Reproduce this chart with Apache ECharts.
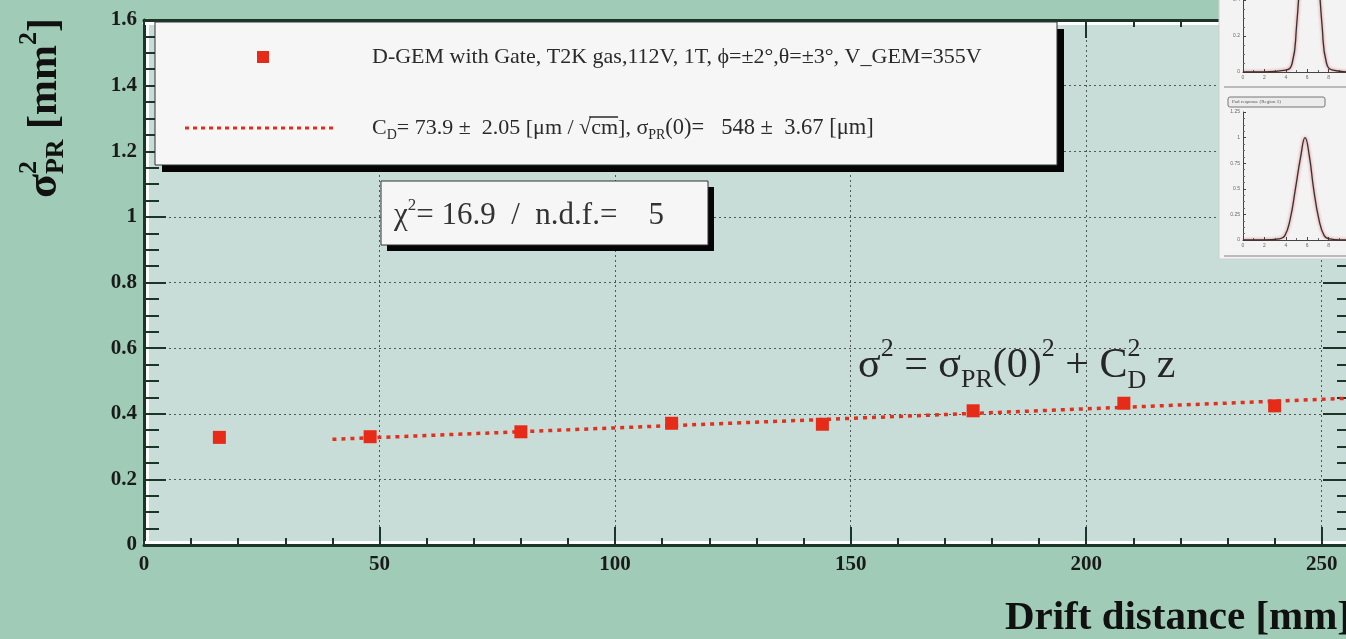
<!DOCTYPE html>
<html>
<head>
<meta charset="utf-8">
<script src="https://cdn.jsdelivr.net/npm/echarts@6/dist/echarts.min.js"></script>
<style>html,body{margin:0;padding:0;background:#a0cbb6;}#chart{width:1346px;height:639px;}</style>
</head>
<body>
<div id="chart"></div>
<script>
// ---- data ----
const driftDistance = [16, 48, 80, 112, 144, 176, 208, 240];          // mm
const sigmaPRsq     = [0.328, 0.330, 0.345, 0.371, 0.368, 0.409, 0.432, 0.424]; // mm^2
const fitX = [40, 255];
const fitY = [0.322, 0.447];
const xRange = { min: 0, max: 256, interval: 50 };
const yRange = { min: 0, max: 1.6, interval: 0.2 };
const legendText1 = 'D-GEM with Gate, T2K gas,112V, 1T, ϕ=±2°,θ=±3°, V_GEM=355V';
const xAxisTitle = 'Drift distance [mm]';
// inset pad-response thumbnails (approximate shapes)
const insetTopX = [0, 2, 4, 4.6, 5.0, 5.4, 5.8, 6.2, 6.6, 7.0, 7.4, 7.8, 8.4, 10];
const insetTopY = [0, 0, 0.01, 0.05, 0.25, 0.6, 0.92, 1, 0.92, 0.6, 0.25, 0.05, 0.01, 0];
const insetBotX = [0, 2, 3.4, 3.9, 4.4, 4.9, 5.4, 5.8, 6.2, 6.6, 7.1, 7.6, 8.1, 9, 10];
const insetBotY = [0, 0, 0.01, 0.04, 0.2, 0.5, 0.82, 1, 0.82, 0.5, 0.2, 0.04, 0.01, 0, 0];
const insetLabel = 'Pad response (Region 5)';

const SERIF = '"Liberation Serif", "DejaVu Serif", serif';
const DARK = '#1d3528';

const ctx2d = document.createElement('canvas').getContext('2d');
function tw(t, font) { ctx2d.font = font; return ctx2d.measureText(t).width; }
// lay out a sequence of text pieces (super/subscripts) using measured widths
function richLine(x0, y0, pieces, o) {
  const els = [];
  let x = x0, prevX = x0;
  pieces.forEach(p => {
    const [t, s, dy = 0, flag = ''] = p;
    const font = `${o.weight || 'normal'} ${s}px ${SERIF}`;
    const w = tw(t, font);
    let px;
    if (flag === 'stack') { px = prevX; x = Math.max(x, prevX + w); }
    else { px = x; prevX = x; x += w; }
    els.push({ type: 'text', x: px, y: y0 + dy, z: o.z || 10,
      style: { text: t, font: font, fill: o.fill || '#222', align: 'left', verticalAlign: 'middle' } });
    if (flag === 'over') {
      els.push({ type: 'line', z: o.z || 10, shape: { x1: px - 2, y1: y0 + dy - s * 0.5, x2: px + w, y2: y0 + dy - s * 0.5 },
        style: { stroke: o.fill || '#222', lineWidth: 1.5 } });
    }
  });
  return els;
}

const chart = echarts.init(document.getElementById('chart'), null, { renderer: 'canvas' });

const axisLbl = { color: '#1a1a1a', fontFamily: SERIF, fontWeight: 'bold', fontSize: 21 };
const dotted = { color: '#4d5a57', type: [2, 3], width: 1 };

const insetAxisX = (gi) => ({
  type: 'value', gridIndex: gi, min: 0, max: 10, interval: 2, z: 20,
  axisLine: { show: true, lineStyle: { color: '#444', width: 1 } },
  axisTick: { inside: true, length: 3, lineStyle: { color: '#444' } },
  minorTick: { show: true, splitNumber: 2, length: 2, lineStyle: { color: '#666' } },
  axisLabel: { fontSize: 5, color: '#666', margin: 3 }, splitLine: { show: false }
});
const insetAxisY = (gi, max, iv) => ({
  type: 'value', gridIndex: gi, min: 0, max: max, interval: iv, z: 20,
  axisLine: { show: true, lineStyle: { color: '#444', width: 1 } },
  axisTick: { inside: true, length: 3, lineStyle: { color: '#444' } },
  minorTick: { show: true, splitNumber: 4, length: 2, lineStyle: { color: '#666' } },
  axisLabel: { fontSize: 5, color: '#666', margin: 3 }, splitLine: { show: false }
});

const graphics = [];
// legend box with shadow
graphics.push({ type: 'rect', z: 9, shape: { x: 162, y: 29, width: 902, height: 143 }, style: { fill: '#050505' } });
graphics.push({ type: 'rect', z: 10, shape: { x: 155, y: 22, width: 902, height: 143 }, style: { fill: '#f6f6f6', stroke: '#333', lineWidth: 1 } });
graphics.push({ type: 'rect', z: 11, shape: { x: 257, y: 51, width: 12, height: 12 }, style: { fill: '#e62b18' } });
graphics.push({ type: 'line', z: 11, shape: { x1: 185, y1: 128, x2: 334, y2: 128 }, style: { stroke: '#e0301e', lineWidth: 3, lineDash: [4, 4] } });
graphics.push(...richLine(372, 57, [[legendText1, 22]], { z: 11, fill: '#2a2a2a' }));
graphics.push(...richLine(372, 128, [['C', 22], ['D', 14, 7], ['= 73.9 ±  2.05 [μm / ', 22], ['√', 22], ['cm', 22, 0, 'over'], ['], σ', 22], ['PR', 14, 7], ['(0)=   548 ±  3.67 [μm]', 22.5]], { z: 11, fill: '#2a2a2a' }));
// chi2 box
graphics.push({ type: 'rect', z: 9, shape: { x: 387, y: 187, width: 327, height: 64 }, style: { fill: '#050505' } });
graphics.push({ type: 'rect', z: 10, shape: { x: 381, y: 181, width: 327, height: 64 }, style: { fill: '#f6f6f6', stroke: '#333', lineWidth: 1 } });
graphics.push(...richLine(394, 216, [['χ', 31], ['2', 17, -10], ['= 16.9  /  n.d.f.=    5', 31]], { z: 11, fill: '#333' }));
// formula
graphics.push(...richLine(858, 366, [['σ', 42], ['2', 26, -17], [' = σ', 42], ['PR', 26, 14], ['(0)', 42], ['2', 26, -17], [' + C', 42], ['2', 26, -17], ['D', 26, 15, 'stack'], [' z', 42]], { z: 11, fill: '#262626' }));
// y axis title (rotated)
graphics.push({ type: 'group', x: 45, y: 198, rotation: Math.PI / 2, z: 11,
  children: richLine(0, 0, [['σ', 44], ['2', 26, -16], ['PR', 26, 11, 'stack'], [' [mm', 42], ['2', 26, -16], [']', 42]], { weight: 'bold', z: 11, fill: '#111' }) });
// x axis title
graphics.push({ type: 'text', z: 11, x: 1351, y: 618, style: { text: xAxisTitle, font: `bold 41px ${SERIF}`, fill: '#111', align: 'right', verticalAlign: 'middle' } });
// inset panel
graphics.push({ type: 'rect', z: 15, shape: { x: 1219, y: -5, width: 135, height: 264 }, style: { fill: '#f3f3f3', stroke: '#cfcfcf', lineWidth: 1 } });
graphics.push({ type: 'line', z: 16, shape: { x1: 1224, y1: 87, x2: 1346, y2: 87 }, style: { stroke: '#bbb', lineWidth: 2 } });
graphics.push({ type: 'line', z: 16, shape: { x1: 1224, y1: 256, x2: 1346, y2: 256 }, style: { stroke: '#bbb', lineWidth: 2 } });
graphics.push({ type: 'rect', z: 16, shape: { x: 1228, y: 97, width: 97, height: 10, r: 2 }, style: { fill: '#ececec', stroke: '#777', lineWidth: 1 } });
graphics.push({ type: 'text', z: 17, x: 1232, y: 102, style: { text: insetLabel, font: `5px ${SERIF}`, fill: '#555', verticalAlign: 'middle' } });

const tickCommon = { lineStyle: { color: DARK, width: 2 } };

const option = {
  backgroundColor: '#a0cbb6',
  animation: false,
  grid: [
    { left: 144, top: 20, width: 1206, height: 525, show: true, backgroundColor: '#c8ddd8', borderWidth: 0, outerBoundsMode: 'none', containLabel: false },
    { left: 1243, top: -108, width: 107, height: 180, outerBoundsMode: 'none', containLabel: false },
    { left: 1243, top: 112, width: 107, height: 128, outerBoundsMode: 'none', containLabel: false }
  ],
  xAxis: [
    { type: 'value', gridIndex: 0, position: 'bottom', min: xRange.min, max: xRange.max, interval: xRange.interval,
      axisLine: { show: true, onZero: false, lineStyle: { color: DARK, width: 3, shadowColor: '#ffffff', shadowOffsetY: -3, shadowBlur: 0 } },
      axisTick: Object.assign({ show: true, inside: true, length: 18 }, tickCommon),
      minorTick: Object.assign({ show: true, splitNumber: 5, length: 7 }, tickCommon),
      axisLabel: Object.assign({ showMaxLabel: false, margin: 9 }, axisLbl),
      splitLine: { show: true, lineStyle: dotted } },
    { type: 'value', gridIndex: 0, position: 'top', min: xRange.min, max: xRange.max, interval: xRange.interval,
      axisLine: { show: true, onZero: false, lineStyle: { color: DARK, width: 3, shadowColor: '#ffffff', shadowOffsetY: 3, shadowBlur: 0 } },
      axisTick: Object.assign({ show: true, inside: true, length: 18 }, tickCommon),
      minorTick: Object.assign({ show: true, splitNumber: 5, length: 7 }, tickCommon),
      axisLabel: { show: false }, splitLine: { show: false } },
    insetAxisX(1), insetAxisX(2)
  ],
  yAxis: [
    { type: 'value', gridIndex: 0, position: 'left', min: yRange.min, max: yRange.max, interval: yRange.interval,
      axisLine: { show: true, onZero: false, lineStyle: { color: DARK, width: 3, shadowColor: '#ffffff', shadowOffsetX: 3, shadowBlur: 0 } },
      axisTick: Object.assign({ show: true, inside: true, length: 22 }, tickCommon),
      minorTick: Object.assign({ show: true, splitNumber: 4, length: 15 }, tickCommon),
      axisLabel: Object.assign({ margin: 7 }, axisLbl),
      splitLine: { show: true, lineStyle: dotted } },
    { type: 'value', gridIndex: 0, position: 'right', min: yRange.min, max: yRange.max, interval: yRange.interval,
      axisLine: { show: true, onZero: false, lineStyle: { color: DARK, width: 3 } },
      axisTick: Object.assign({ show: true, inside: true, length: 27 }, tickCommon),
      minorTick: Object.assign({ show: true, splitNumber: 4, length: 13 }, tickCommon),
      axisLabel: { show: false }, splitLine: { show: false } },
    insetAxisY(1, 1, 0.2), insetAxisY(2, 1.25, 0.25)
  ],
  series: [
    { name: 'fit', type: 'line', xAxisIndex: 0, yAxisIndex: 0, showSymbol: false, z: 3,
      data: fitX.map((x, i) => [x, fitY[i]]),
      lineStyle: { color: '#e0301e', width: 3.5, type: [4, 5] } },
    { name: legendText1, type: 'scatter', xAxisIndex: 0, yAxisIndex: 0, symbol: 'rect', symbolSize: 13, z: 4,
      itemStyle: { color: '#e62b18', opacity: 1 },
      data: driftDistance.map((x, i) => [x, sigmaPRsq[i]]) },
    { type: 'line', xAxisIndex: 2, yAxisIndex: 2, smooth: true, showSymbol: false, z: 20,
      data: insetTopX.map((x, i) => [x, insetTopY[i]]),
      lineStyle: { color: '#333', width: 1.3, shadowColor: 'rgba(220,20,20,0.7)', shadowBlur: 3 } },
    { type: 'line', xAxisIndex: 3, yAxisIndex: 3, smooth: true, showSymbol: false, z: 20,
      data: insetBotX.map((x, i) => [x, insetBotY[i]]),
      lineStyle: { color: '#333', width: 1.3, shadowColor: 'rgba(220,20,20,0.7)', shadowBlur: 3 } }
  ],
  graphic: graphics
};
chart.setOption(option);
</script>
</body>
</html>
